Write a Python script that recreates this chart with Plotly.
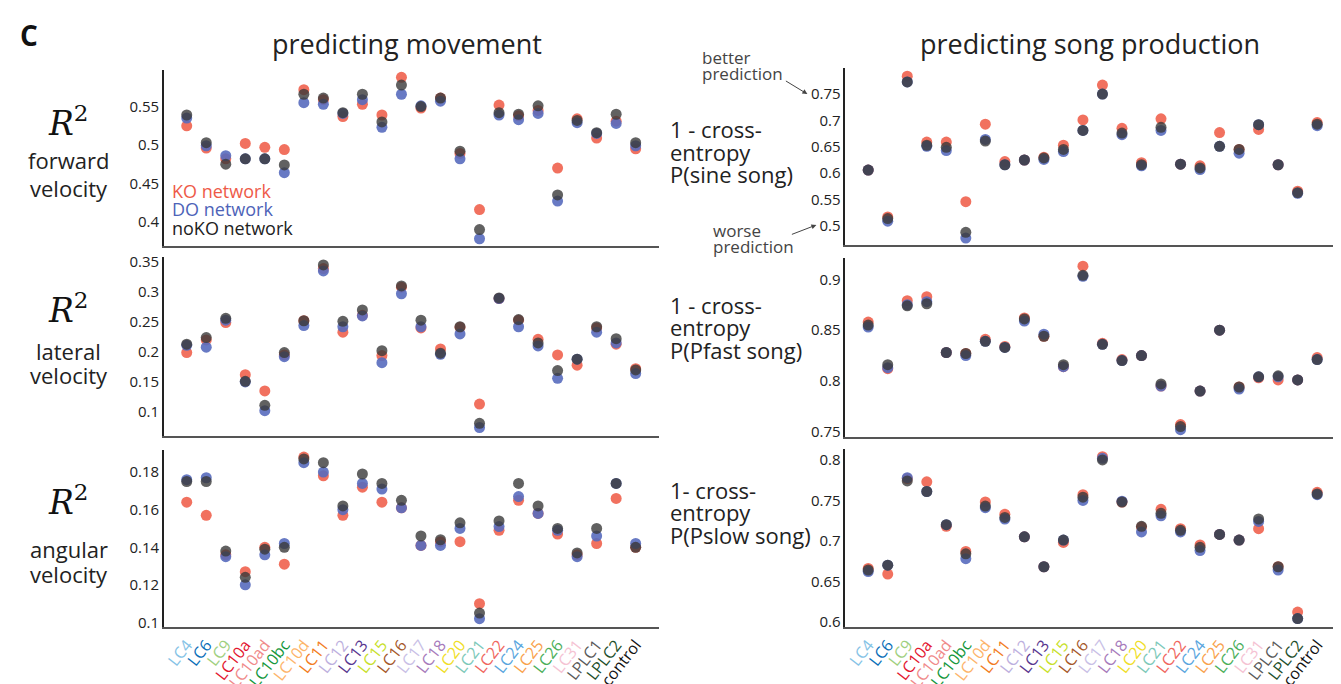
import plotly.graph_objects as go

W, H = 1341, 684

categories = ["LC4", "LC6", "LC9", "LC10a", "LC10ad", "LC10bc", "LC10d", "LC11", "LC12", "LC13",
              "LC15", "LC16", "LC17", "LC18", "LC20", "LC21", "LC22", "LC24", "LC25", "LC26",
              "LC31", "LPLC1", "LPLC2", "control"]
label_colors = ["#86c3e6", "#0a6fb8", "#9fd07f", "#e3162f", "#f08a8a", "#14973b", "#fdb46a", "#f27c22",
                "#bdb0de", "#59378f", "#c8df2c", "#a5582a", "#c9bfe6", "#a77bbb", "#f0de28", "#7dc9b9",
                "#f0675f", "#5aa6de", "#f9a24d", "#4caf5b", "#f5c3d3", "#5a5a5a", "#1e4f2b", "#111111"]

fwd_ko = [0.525, 0.496, 0.482, 0.502, 0.497, 0.494, 0.572, 0.559, 0.537, 0.553, 0.539, 0.588, 0.548, 0.561, 0.489, 0.416, 0.552, 0.538, 0.545, 0.470, 0.534, 0.509, 0.531, 0.495]
fwd_do = [0.535, 0.499, 0.486, 0.482, 0.482, 0.464, 0.555, 0.553, 0.541, 0.559, 0.523, 0.566, 0.551, 0.557, 0.482, 0.378, 0.539, 0.533, 0.541, 0.427, 0.529, 0.515, 0.528, 0.499]
fwd_noko = [0.539, 0.503, 0.475, 0.482, 0.482, 0.474, 0.566, 0.561, 0.542, 0.566, 0.530, 0.578, 0.550, 0.561, 0.492, 0.390, 0.542, 0.540, 0.551, 0.435, 0.532, 0.516, 0.540, 0.503]

lat_ko = [0.198, 0.219, 0.248, 0.161, 0.134, 0.194, 0.251, 0.338, 0.232, 0.260, 0.193, 0.307, 0.239, 0.204, 0.240, 0.112, 0.288, 0.252, 0.220, 0.194, 0.177, 0.239, 0.212, 0.171]
lat_do = [0.210, 0.207, 0.252, 0.149, 0.101, 0.191, 0.243, 0.334, 0.241, 0.259, 0.181, 0.296, 0.241, 0.195, 0.229, 0.073, 0.288, 0.241, 0.209, 0.155, 0.187, 0.232, 0.214, 0.163]
lat_noko = [0.212, 0.223, 0.255, 0.150, 0.110, 0.198, 0.251, 0.344, 0.250, 0.269, 0.201, 0.309, 0.252, 0.197, 0.241, 0.080, 0.289, 0.253, 0.214, 0.168, 0.187, 0.241, 0.221, 0.169]

ang_ko = [0.164, 0.157, 0.136, 0.127, 0.140, 0.131, 0.188, 0.178, 0.157, 0.172, 0.164, 0.161, 0.141, 0.143, 0.143, 0.110, 0.149, 0.165, 0.158, 0.147, 0.136, 0.142, 0.166, 0.140]
ang_do = [0.176, 0.177, 0.135, 0.120, 0.136, 0.142, 0.185, 0.180, 0.160, 0.174, 0.171, 0.161, 0.141, 0.141, 0.150, 0.102, 0.151, 0.167, 0.158, 0.149, 0.135, 0.146, 0.174, 0.142]
ang_noko = [0.175, 0.175, 0.138, 0.124, 0.139, 0.140, 0.187, 0.185, 0.162, 0.179, 0.174, 0.165, 0.146, 0.144, 0.153, 0.105, 0.154, 0.174, 0.162, 0.150, 0.137, 0.150, 0.174, 0.140]

sine_ko = [0.606, 0.517, 0.784, 0.659, 0.659, 0.546, 0.693, 0.622, 0.625, 0.630, 0.653, 0.701, 0.767, 0.685, 0.620, 0.703, 0.617, 0.614, 0.677, 0.645, 0.683, 0.616, 0.566, 0.696]
sine_do = [0.606, 0.509, 0.773, 0.651, 0.643, 0.477, 0.664, 0.616, 0.625, 0.626, 0.641, 0.681, 0.750, 0.673, 0.614, 0.681, 0.617, 0.607, 0.651, 0.638, 0.692, 0.616, 0.562, 0.690]
sine_noko = [0.606, 0.514, 0.773, 0.653, 0.649, 0.488, 0.661, 0.616, 0.625, 0.629, 0.645, 0.681, 0.750, 0.676, 0.616, 0.687, 0.617, 0.610, 0.651, 0.645, 0.692, 0.616, 0.563, 0.693]

fast_ko = [0.858, 0.812, 0.879, 0.883, 0.828, 0.827, 0.841, 0.834, 0.862, 0.844, 0.814, 0.913, 0.837, 0.821, 0.825, 0.795, 0.757, 0.790, 0.850, 0.794, 0.803, 0.801, 0.801, 0.823]
fast_do = [0.853, 0.813, 0.875, 0.878, 0.828, 0.825, 0.839, 0.833, 0.859, 0.846, 0.814, 0.903, 0.836, 0.820, 0.825, 0.795, 0.752, 0.790, 0.850, 0.792, 0.804, 0.804, 0.801, 0.821]
fast_noko = [0.855, 0.816, 0.874, 0.876, 0.828, 0.827, 0.839, 0.833, 0.861, 0.844, 0.816, 0.904, 0.836, 0.820, 0.825, 0.797, 0.755, 0.790, 0.850, 0.794, 0.804, 0.805, 0.801, 0.821]

slow_ko = [0.666, 0.659, 0.777, 0.773, 0.718, 0.687, 0.748, 0.733, 0.705, 0.668, 0.698, 0.757, 0.804, 0.748, 0.717, 0.739, 0.715, 0.695, 0.708, 0.701, 0.715, 0.668, 0.612, 0.760]
slow_do = [0.662, 0.670, 0.778, 0.761, 0.720, 0.678, 0.741, 0.727, 0.705, 0.668, 0.701, 0.750, 0.802, 0.749, 0.711, 0.731, 0.711, 0.688, 0.708, 0.701, 0.724, 0.664, 0.604, 0.757]
slow_noko = [0.664, 0.670, 0.774, 0.761, 0.720, 0.684, 0.743, 0.729, 0.705, 0.668, 0.701, 0.754, 0.800, 0.748, 0.718, 0.734, 0.713, 0.692, 0.708, 0.701, 0.727, 0.668, 0.604, 0.758]

ko_color = "rgba(240,98,78,0.9)"
do_color = "rgba(88,108,190,0.9)"
noko_color = "rgba(58,58,58,0.8)"

FONT = "Open Sans"

def fx(x):
    return x / W

def fy(y):
    return 1 - y / H

# panels: (data triple, x-pixel span, y-pixel span, y range, tick values, tick texts, show x labels)
panels = [
    ((fwd_ko, fwd_do, fwd_noko), (155, 650), (57, 238), [0.368, 0.598], [0.4, 0.45, 0.5, 0.55], ["0.4", "0.45", "0.5", "0.55"], False),
    ((lat_ko, lat_do, lat_noko), (155, 650), (249, 432), [0.059, 0.357], [0.1, 0.15, 0.2, 0.25, 0.3, 0.35], ["0.1", "0.15", "0.2", "0.25", "0.3", "0.35"], False),
    ((ang_ko, ang_do, ang_noko), (155, 650), (446, 628), [0.0974, 0.192], [0.1, 0.12, 0.14, 0.16, 0.18], ["0.1", "0.12", "0.14", "0.16", "0.18"], True),
    ((sine_ko, sine_do, sine_noko), (837, 1332), (55, 237), [0.463, 0.80], [0.5, 0.55, 0.6, 0.65, 0.7, 0.75], ["0.5", "0.55", "0.6", "0.65", "0.7", "0.75"], False),
    ((fast_ko, fast_do, fast_noko), (837, 1332), (250, 433), [0.7449, 0.9209], [0.75, 0.8, 0.85, 0.9], ["0.75", "0.8", "0.85", "0.9"], False),
    ((slow_ko, slow_do, slow_noko), (837, 1332), (445, 628), [0.5932, 0.814], [0.6, 0.65, 0.7, 0.75, 0.8], ["0.6", "0.65", "0.7", "0.75", "0.8"], True),
]

xidx = list(range(len(categories)))
colored_labels = [f'<span style="color:{c}">{t}</span>' for t, c in zip(categories, label_colors)]

fig = go.Figure()
layout_axes = {}
for i, (data, xs, ys, yr, tv, tt, showx) in enumerate(panels):
    n = i + 1
    xa = "x" if n == 1 else f"x{n}"
    ya = "y" if n == 1 else f"y{n}"
    for vals, col in zip(data, (ko_color, do_color, noko_color)):
        fig.add_trace(go.Scatter(x=xidx, y=vals, mode="markers", xaxis=xa, yaxis=ya,
                                 marker=dict(size=11, color=col, line=dict(width=0)),
                                 showlegend=False, hoverinfo="y"))
    xkey = "xaxis" if n == 1 else f"xaxis{n}"
    ykey = "yaxis" if n == 1 else f"yaxis{n}"
    layout_axes[xkey] = dict(domain=[fx(xs[0]), fx(xs[1])], anchor=ya, range=[-1.17, 24.17],
                             showgrid=False, zeroline=False, showline=True, linecolor="#555", linewidth=2,
                             tickmode="array", tickvals=xidx,
                             ticktext=colored_labels if showx else [""] * len(xidx),
                             showticklabels=showx, ticks="", tickangle=-52,
                             tickfont=dict(family=FONT, size=16))
    layout_axes[ykey] = dict(domain=[fy(ys[1]), fy(ys[0])], anchor=xa, range=yr,
                             showgrid=False, zeroline=False, showline=True, linecolor="#222", linewidth=1.5,
                             tickmode="array", tickvals=tv, ticktext=tt, ticks="",
                             tickfont=dict(family=FONT, size=15, color="#222"))

fig.update_layout(**layout_axes)

ann = []

def text(x, y, s, size=20, color="#222", xanchor="center", family=FONT):
    ann.append(dict(x=fx(x), y=fy(y), xref="paper", yref="paper", text=s, showarrow=False,
                    xanchor=xanchor, yanchor="middle", font=dict(family=family, size=size, color=color)))

text(20, 22, "<b>C</b>", size=28, color="#111")
text(398, 30, "predicting movement", size=27)
text(1082, 30, "predicting song production", size=27)

# left row labels
for (yR, l1, y1, l2, y2) in [(110, "forward", 150, "velocity", 178),
                             (302, "lateral", 345, "velocity", 370),
                             (498, "angular", 548, "velocity", 573)]:
    text(60, yR, "<i>R</i><sup>2</sup>", size=33, color="#111", family="DejaVu Serif")
    text(60, y1, l1, size=22)
    text(60, y2, l2, size=22)

# legend text
text(161, 181, "KO network", size=18, color="#ee5a48", xanchor="left")
text(161, 200, "DO network", size=18, color="#4d63b8", xanchor="left")
text(161, 219, "noKO network", size=18, color="#222", xanchor="left")

# right row labels
for (top, last) in [(118, "P(sine song)"), (298, "P(Pfast song)"), (487, "P(Pslow song)")]:
    first = "1 - cross-" if last != "P(Pslow song)" else "1- cross-"
    text(659, top, first, size=22, xanchor="left")
    text(659, top + 23, "entropy", size=22, xanchor="left")
    text(659, top + 46, last, size=22, xanchor="left")

# better / worse prediction notes
text(692, 45, "better", size=17, color="#444", xanchor="left")
text(692, 61, "prediction", size=17, color="#444", xanchor="left")
text(703, 222, "worse", size=17, color="#444", xanchor="left")
text(703, 238, "prediction", size=17, color="#444", xanchor="left")

ann.append(dict(x=fx(799), y=fy(82), xref="paper", yref="paper", ax=-23, ay=-14,
                axref="pixel", ayref="pixel", text="", showarrow=True, arrowhead=2,
                arrowsize=1, arrowwidth=1, arrowcolor="#444"))
ann.append(dict(x=fx(808), y=fy(216), xref="paper", yref="paper", ax=-26, ay=10,
                axref="pixel", ayref="pixel", text="", showarrow=True, arrowhead=2,
                arrowsize=1, arrowwidth=1, arrowcolor="#444"))

fig.update_layout(annotations=ann, width=W, height=H, autosize=False,
                  margin=dict(l=0, r=0, t=0, b=0), paper_bgcolor="white", plot_bgcolor="white",
                  font=dict(family=FONT, color="#222"), showlegend=False)

fig.write_html("out.html")
